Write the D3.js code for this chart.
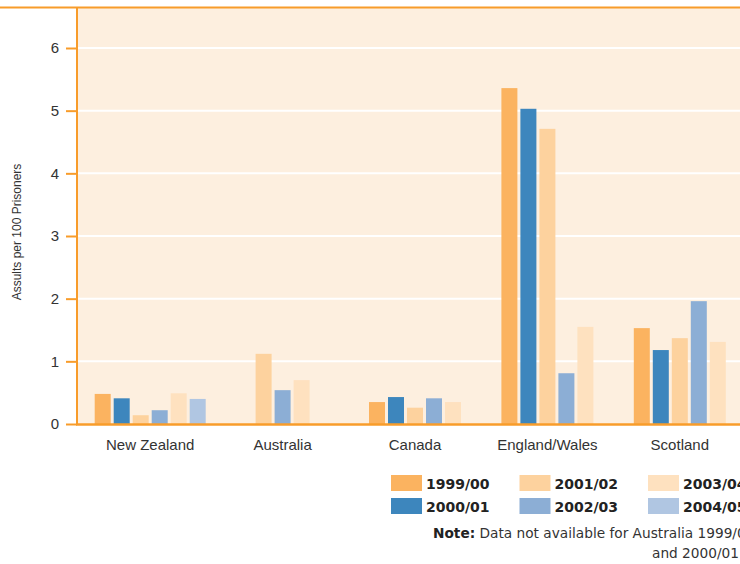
<!DOCTYPE html>
<html>
<head>
<meta charset="utf-8">
<script src="https://cdn.jsdelivr.net/npm/d3@7"></script>
<style>
  html, body { margin: 0; padding: 0; background: #ffffff; }
  svg { display: block; }
</style>
</head>
<body>
<svg id="chart" width="740" height="564"></svg>
<script>
// Assaults per 100 prisoners, by jurisdiction and financial year
const countries = ["New Zealand", "Australia", "Canada", "England/Wales", "Scotland"];
const seasons = ["1999/00", "2000/01", "2001/02", "2002/03", "2003/04", "2004/05"];

// one array per year, in the order of `countries`; null = no data
const v1999_00 = [0.48, null, 0.35, 5.36, 1.53];
const v2000_01 = [0.41, null, 0.43, 5.03, 1.18];
const v2001_02 = [0.14, 1.12, 0.26, 4.71, 1.37];
const v2002_03 = [0.22, 0.54, 0.41, 0.81, 1.96];
const v2003_04 = [0.49, 0.70, 0.35, 1.55, 1.31];
const v2004_05 = [0.40, null, null, null, null];

const seasonColors = ["#FBB360", "#3D86BD", "#FDD29E", "#8CAED5", "#FEE1BF", "#B0C6E2"];
const yTicks = [0, 1, 2, 3, 4, 5, 6];

const seriesValues = [v1999_00, v2000_01, v2001_02, v2002_03, v2003_04, v2004_05];

const svg = d3.select("#chart");
const W = 740;
const orange = "#F89C2A";
const plot = { left: 77, top: 8, bottom: 424 };

// scales
const x = d3.scaleBand().domain(countries).range([84, 746]).padding(0);
const y = d3.scaleLinear().domain([0, 6]).range([plot.bottom, 48]);
const slot = 19, barW = 16;

// plot background
svg.append("rect")
  .attr("x", plot.left).attr("y", plot.top)
  .attr("width", W - plot.left).attr("height", plot.bottom - plot.top)
  .attr("fill", "#FDEFDF");

// white gridlines
svg.append("g")
  .selectAll("line")
  .data(yTicks.slice(1))
  .join("line")
  .attr("x1", plot.left).attr("x2", W)
  .attr("y1", d => y(d)).attr("y2", d => y(d))
  .attr("stroke", "#ffffff").attr("stroke-width", 2);

// bars: each group's available years are centred under the label
const groups = countries.map((c, ci) => {
  const items = seasons
    .map((s, si) => ({ country: c, season: s, si, value: seriesValues[si][ci] }))
    .filter(d => d.value != null);
  items.forEach((d, j) => { d.offset = (j - (items.length - 1) / 2) * slot; });
  return items;
});

svg.append("g")
  .selectAll("rect")
  .data(groups.flat())
  .join("rect")
  .attr("x", d => x(d.country) + x.bandwidth() / 2 + d.offset - barW / 2)
  .attr("y", d => y(d.value))
  .attr("width", barW)
  .attr("height", d => y(0) - y(d.value))
  .attr("fill", d => seasonColors[d.si]);

// top rule
svg.append("line")
  .attr("x1", 0).attr("x2", W).attr("y1", 7.5).attr("y2", 7.5)
  .attr("stroke", orange).attr("stroke-width", 2);

// y axis
const yAxis = d3.axisLeft(y).tickValues(yTicks).tickSize(11).tickPadding(7).tickFormat(d3.format("d"));
const yg = svg.append("g").attr("transform", `translate(${plot.left},0)`).call(yAxis);
yg.select(".domain").remove();
yg.selectAll(".tick line").attr("stroke", orange).attr("stroke-width", 2);
yg.selectAll(".tick text")
  .attr("font-family", "'Liberation Sans', Arial, sans-serif")
  .attr("font-size", 15).attr("fill", "#333");
svg.append("line")
  .attr("x1", plot.left).attr("x2", plot.left)
  .attr("y1", 7).attr("y2", plot.bottom + 1)
  .attr("stroke", orange).attr("stroke-width", 2);

// x axis
const xAxis = d3.axisBottom(x).tickSize(0).tickPadding(15);
const xg = svg.append("g").attr("transform", `translate(0,${plot.bottom})`).call(xAxis);
xg.select(".domain").remove();
xg.selectAll(".tick text")
  .attr("font-family", "'Liberation Sans', Arial, sans-serif")
  .attr("font-size", 15).attr("fill", "#333");
svg.append("line")
  .attr("x1", plot.left - 1).attr("x2", W)
  .attr("y1", plot.bottom + 0.5).attr("y2", plot.bottom + 0.5)
  .attr("stroke", orange).attr("stroke-width", 2.5);

// y axis title
svg.append("text")
  .attr("transform", "translate(21,232) rotate(-90)")
  .attr("text-anchor", "middle")
  .attr("font-family", "'Liberation Sans', Arial, sans-serif")
  .attr("font-size", 12).attr("fill", "#333")
  .text("Assults per 100 Prisoners");

// legend: three columns, two rows
const legend = svg.append("g").attr("transform", "translate(391,475)");
const li = legend.selectAll("g")
  .data(seasons)
  .join("g")
  .attr("transform", (d, i) => `translate(${Math.floor(i / 2) * 128.5},${(i % 2) * 23})`);
li.append("rect").attr("width", 31).attr("height", 16).attr("fill", (d, i) => seasonColors[i]);
li.append("text")
  .attr("x", 35).attr("y", 14)
  .attr("font-family", "'DejaVu Sans', sans-serif")
  .attr("font-weight", "bold")
  .attr("font-size", 14).attr("fill", "#222")
  .text(d => d);

// note
const note = svg.append("g")
  .attr("font-family", "'DejaVu Sans', sans-serif")
  .attr("font-size", 13.7).attr("fill", "#333");
const n1 = note.append("text").attr("x", 433).attr("y", 538);
n1.append("tspan").attr("font-weight", "bold").attr("fill", "#222").text("Note:");
n1.append("tspan").text(" Data not available for Australia 1999/00");
note.append("text").attr("x", 652).attr("y", 558).text("and 2000/01");
</script>
</body>
</html>
